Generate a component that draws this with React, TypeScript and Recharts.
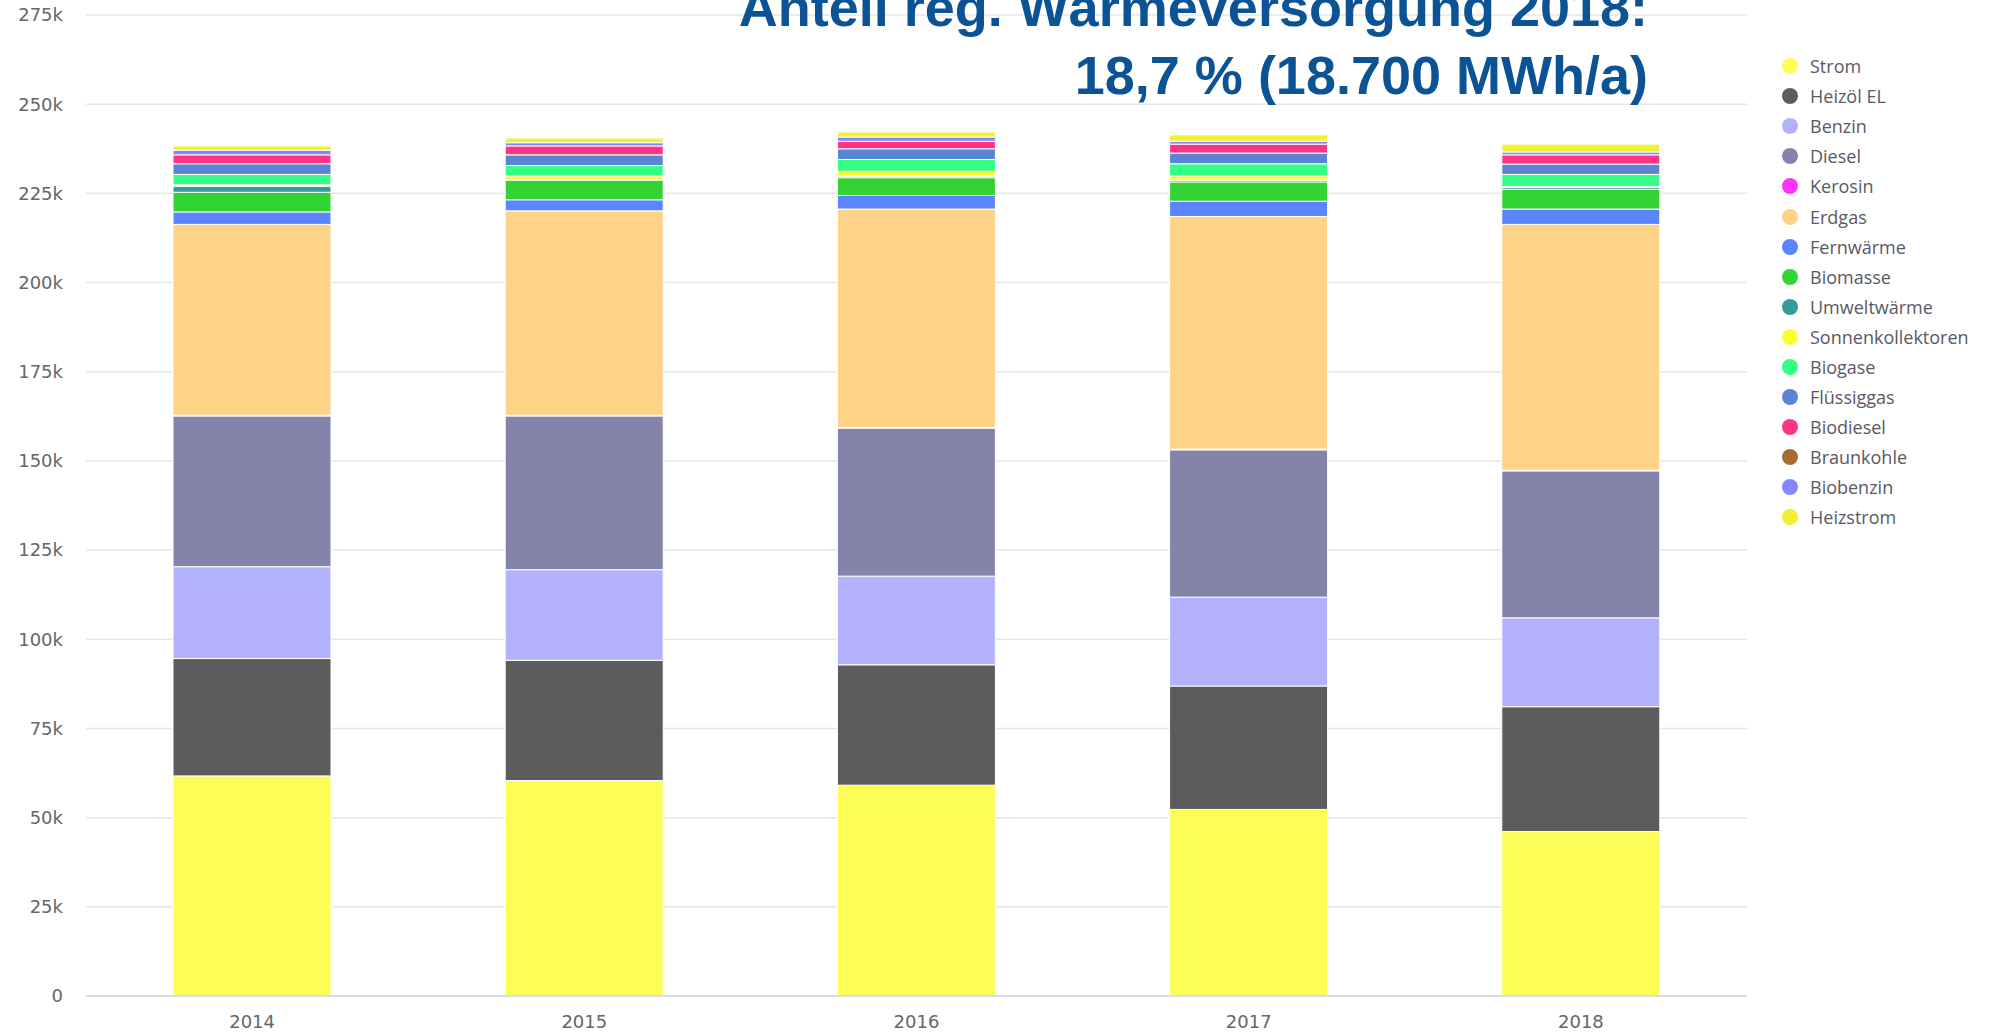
import React from 'react';
import { Bar, BarChart, CartesianGrid, XAxis, YAxis } from 'recharts';

// years on the x axis
const years = ['2014', '2015', '2016', '2017', '2018'];

// MWh/a per energy source, stacked bottom to top
const strom = [61700, 60400, 59100, 52300, 46100];
const heizoel = [32900, 33700, 33750, 34600, 35000];
const benzin = [25750, 25400, 24850, 24900, 24900];
const diesel = [42250, 43100, 41500, 41300, 41200];
const kerosin = [200, 200, 200, 200, 200];
const erdgas = [53500, 57300, 61200, 65200, 68900];
const fernwaerme = [3500, 3100, 3800, 4300, 4300];
const biomasse = [5500, 5500, 5000, 5400, 5500];
const umweltwaerme = [1700, 200, 400, 500, 500];
const sonnenkollektoren = [400, 1000, 1400, 1200, 300];
const biogase = [2900, 2900, 3300, 3400, 3400];
const fluessiggas = [3000, 3000, 3000, 3000, 2900];
const biodiesel = [2500, 2500, 2100, 2500, 2600];
const braunkohle = [0, 0, 0, 0, 0];
const biobenzin = [1300, 900, 1200, 800, 800];
const heizstrom = [1200, 1300, 1400, 1800, 2200];

const yTicks = [0, 25000, 50000, 75000, 100000, 125000, 150000, 175000, 200000, 225000, 250000, 275000];

const series = [
  { key: 'Strom', values: strom, color: '#fdfd58' },
  { key: 'Heizöl EL', values: heizoel, color: '#5c5c5c' },
  { key: 'Benzin', values: benzin, color: '#b3b3fd' },
  { key: 'Diesel', values: diesel, color: '#8484aa' },
  { key: 'Kerosin', values: kerosin, color: '#ff33ff' },
  { key: 'Erdgas', values: erdgas, color: '#fed287' },
  { key: 'Fernwärme', values: fernwaerme, color: '#5b84fe' },
  { key: 'Biomasse', values: biomasse, color: '#34d334' },
  { key: 'Umweltwärme', values: umweltwaerme, color: '#349a9a' },
  { key: 'Sonnenkollektoren', values: sonnenkollektoren, color: '#fdfd36' },
  { key: 'Biogase', values: biogase, color: '#34fe84' },
  { key: 'Flüssiggas', values: fluessiggas, color: '#5b84d2' },
  { key: 'Biodiesel', values: biodiesel, color: '#fe3484' },
  { key: 'Braunkohle', values: braunkohle, color: '#a86b34' },
  { key: 'Biobenzin', values: biobenzin, color: '#8585fe' },
  { key: 'Heizstrom', values: heizstrom, color: '#f0f034' },
];

const data = years.map((year, i) => {
  const row: Record<string, string | number> = { year };
  series.forEach((s) => {
    row[s.key] = s.values[i];
  });
  return row;
});

const fmt = (v: number) => (v === 0 ? '0' : `${v / 1000}k`);

function LegendList() {
  return (
    <div
      style={{
        position: 'absolute',
        left: 1782,
        top: 51,
        fontFamily: '"Open Sans", sans-serif',
        fontSize: 18,
        color: '#595966',
      }}
    >
      {series.map((s) => (
        <div key={s.key} style={{ display: 'flex', alignItems: 'center', height: 30.1 }}>
          <span
            style={{
              width: 16,
              height: 16,
              borderRadius: 8,
              background: s.color,
              marginRight: 12,
              flexShrink: 0,
            }}
          />
          <span style={{ whiteSpace: 'nowrap' }}>{s.key}</span>
        </div>
      ))}
    </div>
  );
}

export default function App() {
  return (
    <div style={{ position: 'absolute', left: 0, top: 0, width: 1995, height: 1032, background: '#fff', overflow: 'hidden' }}>
      <BarChart
        width={1995}
        height={1032}
        data={data}
        margin={{ top: 15, right: 248, bottom: 6, left: 0 }}
      >
        <CartesianGrid vertical={false} stroke="#e6e6e6" strokeWidth={1.5} />
        <XAxis
          dataKey="year"
          height={30}
          stroke="#ccd6eb"
          strokeWidth={1.5}
          tickLine={false}
          tickMargin={13}
          tick={{ fill: '#666', fontSize: 18, fontFamily: '"DejaVu Sans", sans-serif' }}
        />
        <YAxis
          width={86}
          domain={[0, 275000]}
          ticks={yTicks}
          interval={0}
          axisLine={false}
          tickLine={false}
          tickMargin={17}
          tickFormatter={fmt}
          tick={{ fill: '#666', fontSize: 18, fontFamily: '"DejaVu Sans", sans-serif' }}
        />
        {series.map((s) => (
          <Bar
            key={s.key}
            dataKey={s.key}
            stackId="a"
            fill={s.color}
            stroke="#ffffff"
            strokeWidth={1}
            barSize={158}
            isAnimationActive={false}
          />
        ))}
      </BarChart>
      <LegendList />
      <svg
        width={1995}
        height={120}
        style={{ position: 'absolute', left: 0, top: 0, pointerEvents: 'none' }}
      >
        <g fontFamily='"Liberation Sans", Arial, sans-serif' fontWeight="bold" fontSize={54} fill="#0b5394" textAnchor="end">
          <text x={1648} y={26}>Anteil reg. Wärmeversorgung 2018:</text>
          <text x={1648} y={94}>18,7 % (18.700 MWh/a)</text>
        </g>
      </svg>
    </div>
  );
}
